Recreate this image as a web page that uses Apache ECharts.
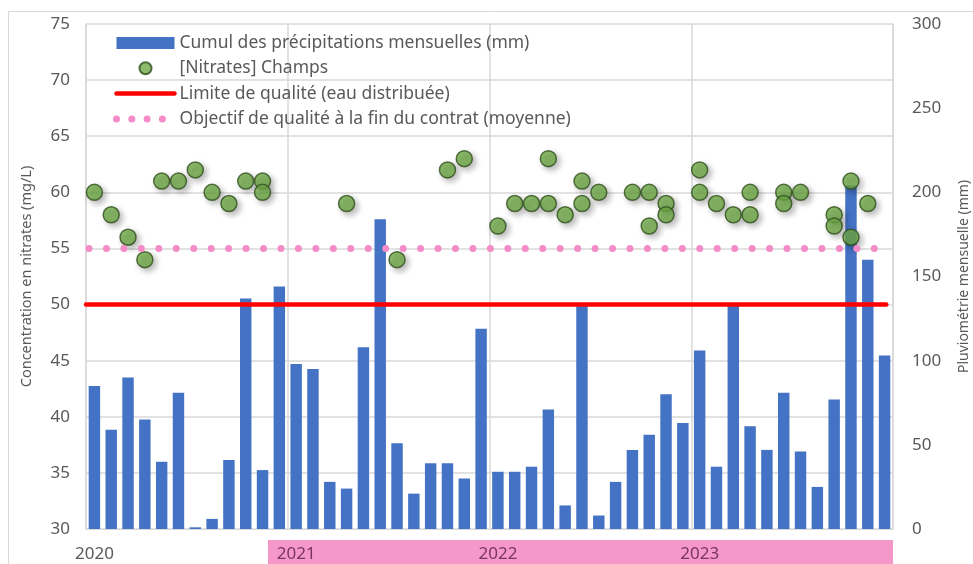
<!DOCTYPE html>
<html>
<head>
<meta charset="utf-8">
<script src="https://cdn.jsdelivr.net/npm/echarts@6/dist/echarts.min.js"></script>
<style>
  html, body { margin: 0; padding: 0; background: #fff; }
  #chart { width: 973px; height: 564px; }
</style>
</head>
<body>
<div id="chart"></div>
<script>
// year labels on the x axis (one category per month)
const years = ['2020', '2021', '2022', '2023']
const months = []
years.forEach((y) => {
  for (let m = 1; m <= 12; m++) months.push(y + '-' + String(m).padStart(2, '0'))
})

// cumul des précipitations mensuelles (mm), jan 2020 -> déc 2023
const precip2020 = [85, 59, 90, 65, 40, 81, 1, 6, 41, 137, 35, 144]
const precip2021 = [98, 95, 28, 24, 108, 184, 51, 21, 39, 39, 30, 119]
const precip2022 = [34, 34, 37, 71, 14, 133, 8, 28, 47, 56, 80, 63]
const precip2023 = [106, 37, 133, 61, 47, 81, 46, 25, 77, 204, 160, 103]
const precip = [...precip2020, ...precip2021, ...precip2022, ...precip2023]

// [Nitrates] Champs : [index du mois, mg/L]
const nitrates = [
  [0, 60], [1, 58], [2, 56], [3, 54], [4, 61], [5, 61], [6, 62], [7, 60], [8, 59], [9, 61], [10, 61], [10, 60],
  [15, 59], [18, 54], [21, 62], [22, 63],
  [24, 57], [25, 59], [26, 59], [27, 59], [27, 63], [28, 58], [29, 61], [29, 59], [30, 60], [32, 60], [33, 60], [33, 57], [34, 59], [34, 58],
  [36, 62], [36, 60], [37, 59], [38, 58], [39, 60], [39, 58], [41, 60], [41, 59], [42, 60], [44, 58], [44, 57], [45, 61], [45, 56], [46, 59],
]

// seuils (mg/L) et étendue en mois
const limiteQualite = [[0, 50], [47.6, 50]]
const objectifQualite = [[0.18, 55], [47.05, 55]]

const leftTicks = { min: 30, max: 75, interval: 5 }
const rightTicks = { min: 0, max: 300, interval: 50 }

const gray = '#595959'
const gridColor = '#d9d9d9'
const font = 'Noto Sans'

const chart = echarts.init(document.getElementById('chart'))

const option = {
  animation: false,
  textStyle: { fontFamily: font },
  graphic: [
    {
      type: 'rect',
      z: -10,
      shape: { x: 8.5, y: 11.5, width: 1000, height: 600 },
      style: { fill: 'none', stroke: gridColor, lineWidth: 1 },
    },
    {
      type: 'rect',
      z: -10,
      shape: { x: 268, y: 540, width: 625, height: 30 },
      style: { fill: '#f598c9' },
    },
  ],
  grid: { left: 86, right: 80, top: 24, bottom: 35, outerBoundsMode: 'none' },
  legend: {
    orient: 'vertical',
    left: 113,
    top: 34,
    padding: 0,
    itemWidth: 58,
    itemHeight: 12,
    itemGap: 7.3,
    textStyle: { color: gray, fontSize: 17.5, lineHeight: 17, fontFamily: font },
    data: [
      { name: 'Cumul des précipitations mensuelles (mm)', icon: 'rect' },
      { name: '[Nitrates] Champs', icon: 'circle' },
      {
        name: 'Limite de qualité (eau distribuée)',
        itemStyle: { opacity: 0 },
        lineStyle: { width: 4.5 },
      },
      {
        name: 'Objectif de qualité à la fin du contrat (moyenne)',
        itemStyle: { opacity: 0 },
        lineStyle: { width: 7, type: [0, 15.3], cap: 'round' },
      },
    ],
  },
  xAxis: [
    {
      type: 'category',
      data: months,
      boundaryGap: true,
      axisLine: { lineStyle: { color: gridColor } },
      axisTick: {
        interval: (i) => i % 12 === 0,
        length: 5,
        lineStyle: { color: gridColor },
      },
      axisLabel: {
        interval: (i) => i % 12 === 0,
        formatter: (v) => v.slice(0, 4),
        color: (v) => (v && v.slice(0, 4) !== '2020' ? '#7a3560' : gray),
        fontSize: 17,
        margin: 17,
      },
      splitLine: {
        show: true,
        interval: (i) => i % 12 === 0,
        lineStyle: { color: gridColor, width: 1.5 },
      },
    },
    {
      type: 'value',
      min: 0,
      max: 48,
      show: false,
    },
  ],
  yAxis: [
    {
      type: 'value',
      ...leftTicks,
      name: 'Concentration en nitrates (mg/L)',
      nameLocation: 'middle',
      nameGap: 52,
      nameTextStyle: { color: gray, fontSize: 14.5 },
      axisLine: { show: true, lineStyle: { color: gridColor, width: 1.5 } },
      axisTick: { show: false },
      axisLabel: { color: gray, fontSize: 17, margin: 16 },
      splitLine: { lineStyle: { color: gridColor, width: 1.5 } },
    },
    {
      type: 'value',
      ...rightTicks,
      name: 'Pluviométrie mensuelle (mm)',
      nameLocation: 'middle',
      nameGap: 64,
      nameTextStyle: { color: gray, fontSize: 14 },
      axisLine: { show: true, lineStyle: { color: gridColor, width: 1.5 } },
      axisTick: { show: false },
      axisLabel: { color: gray, fontSize: 17, margin: 19 },
      splitLine: { show: false },
    },
  ],
  series: [
    {
      name: 'Cumul des précipitations mensuelles (mm)',
      type: 'bar',
      yAxisIndex: 1,
      data: precip,
      barCategoryGap: '32%',
      itemStyle: { color: '#4472c4' },
    },
    {
      name: 'Limite de qualité (eau distribuée)',
      type: 'line',
      xAxisIndex: 1,
      data: limiteQualite,
      symbol: 'none',
      lineStyle: { color: '#ff0000', width: 4.5, cap: 'round' },
    },
    {
      name: 'Objectif de qualité à la fin du contrat (moyenne)',
      type: 'line',
      xAxisIndex: 1,
      data: objectifQualite,
      symbol: 'none',
      lineStyle: { color: '#f48cc8', width: 7, type: [0, 17.45], cap: 'round' },
    },
    {
      name: '[Nitrates] Champs',
      type: 'scatter',
      data: nitrates,
      symbolSize: 16,
      itemStyle: {
        color: '#70ad47',
        borderColor: '#2f4f1c',
        borderWidth: 1.5,
        shadowBlur: 6,
        shadowOffsetX: 3,
        shadowOffsetY: 3,
        shadowColor: 'rgba(0, 0, 0, 0.35)',
      },
    },
  ],
}

chart.setOption(option)
</script>
</body>
</html>
